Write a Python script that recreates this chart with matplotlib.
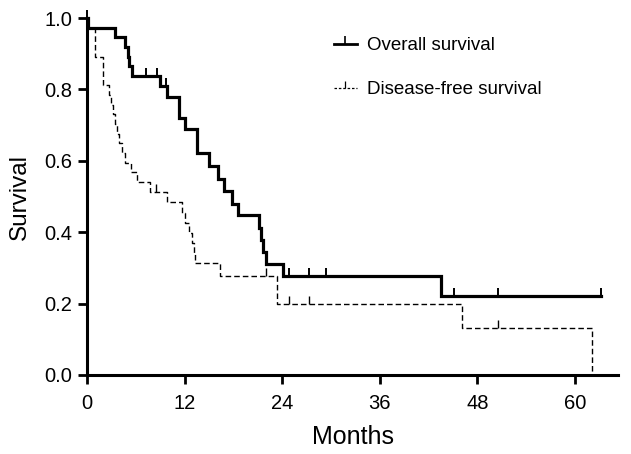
import numpy as np
import matplotlib
matplotlib.use("Agg")
import matplotlib.pyplot as plt
from matplotlib.markers import TICKUP

# Kaplan-Meier steps (months, survival after the drop)
os_time = [0, 0.1, 3.5, 4.7, 5.0, 5.2, 5.5, 9.0, 9.8, 11.35, 12.05, 13.5, 15.0,
           16.1, 16.8, 17.8, 18.6, 21.1, 21.4, 21.7, 22.0, 24.1, 43.5]
os_surv = [1.0, 0.973, 0.946, 0.919, 0.892, 0.865, 0.838, 0.810, 0.780, 0.720,
           0.690, 0.622, 0.585, 0.550, 0.516, 0.480, 0.448, 0.413, 0.378, 0.345,
           0.310, 0.277, 0.221]
os_end = 63.2
os_cens = [0.05, 7.3, 8.6, 9.7, 24.9, 27.3, 29.4, 45.1, 50.5, 63.2]

dfs_time = [0, 0.1, 0.94, 2.0, 2.7, 3.0, 3.2, 3.5, 3.65, 3.9, 4.35, 4.7, 5.4,
            6.2, 7.7, 9.8, 11.7, 12.0, 12.5, 12.9, 13.1, 13.3, 16.4, 23.4, 46.1, 62.1]
dfs_surv = [1.0, 0.973, 0.892, 0.811, 0.784, 0.757, 0.730, 0.703, 0.676, 0.649,
            0.622, 0.595, 0.568, 0.541, 0.514, 0.484, 0.455, 0.427, 0.398, 0.370,
            0.341, 0.314, 0.277, 0.200, 0.133, 0.0]
dfs_end = 62.1
dfs_cens = [8.5, 22.0, 24.9, 27.3, 50.5]

x_ticks = [0, 12, 24, 36, 48, 60]
y_ticks = [0.0, 0.2, 0.4, 0.6, 0.8, 1.0]

plt.rcParams["font.family"] = ["Liberation Sans", "DejaVu Sans"]


def surv_at(times, surv, t):
    i = np.searchsorted(times, t, side="right") - 1
    return np.asarray(surv)[i]


fig = plt.figure(figsize=(6.31, 4.54), dpi=100)
ax = fig.add_axes([87 / 631, 1 - 375 / 454, 531 / 631, 357 / 454])

# overall survival: thick solid
ax.step(os_time + [os_end], os_surv + [os_surv[-1]], where="post",
        color="black", lw=2.3, clip_on=False, solid_joinstyle="miter")
ax.plot(os_cens, surv_at(os_time, os_surv, os_cens), ls="none",
        marker=TICKUP, ms=6, mew=1.4, color="black", clip_on=False)

# disease-free survival: thin dashed
ax.step(dfs_time + [dfs_end], dfs_surv + [dfs_surv[-1]], where="post",
        color="black", lw=1.0, ls=(0, (4, 2.2)), clip_on=False)
ax.plot(dfs_cens, surv_at(dfs_time, dfs_surv, dfs_cens), ls="none",
        marker=TICKUP, ms=6, mew=1.0, color="black", clip_on=False)

h_os = plt.Line2D([], [], color="black", lw=2.0, marker=TICKUP, ms=6, mew=1.2)
h_dfs = plt.Line2D([], [], color="black", lw=0.9, ls=(0, (2, 1.5)),
                   marker=TICKUP, ms=5, mew=0.9)
ax.legend([h_os, h_dfs], ["Overall survival", "Disease-free survival"],
          loc="upper left", bbox_to_anchor=(334 / 631, 1 - 37 / 454),
          bbox_transform=fig.transFigure, frameon=False, fontsize=13.5,
          handlelength=1.2, handletextpad=0.55, labelspacing=1.45,
          numpoints=1, borderaxespad=0, borderpad=0)

ax.set_xlim(0, 65.3)
ax.set_ylim(0, 1.0)
ax.set_xticks(x_ticks)
ax.set_yticks(y_ticks)
ax.set_yticklabels([f"{v:.1f}" for v in y_ticks])
ax.spines["top"].set_visible(False)
ax.spines["right"].set_visible(False)
for s in ("left", "bottom"):
    ax.spines[s].set_linewidth(2.2)
ax.tick_params(width=2.0, length=6.5, labelsize=14.5, colors="black")
ax.tick_params(axis="x", pad=7)
ax.tick_params(axis="y", pad=4)
ax.set_xlabel("Months", fontsize=18, labelpad=9)
ax.set_ylabel("Survival", fontsize=17.5, labelpad=10)

fig.savefig("out.png", dpi=100)
